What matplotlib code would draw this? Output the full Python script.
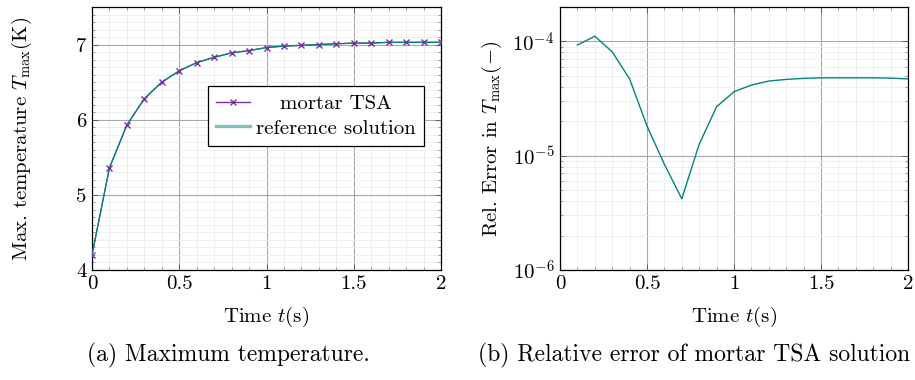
import matplotlib
matplotlib.use("Agg")
import matplotlib.pyplot as plt
from matplotlib.ticker import MultipleLocator, LogLocator, NullFormatter
from matplotlib.lines import Line2D
import numpy as np

plt.rcParams['font.family'] = 'serif'
plt.rcParams['font.serif'] = ['cmr10']
plt.rcParams['mathtext.fontset'] = 'cm'
plt.rcParams['axes.formatter.use_mathtext'] = True
plt.rcParams['axes.unicode_minus'] = True

# data
time = [0.0, 0.1, 0.2, 0.3, 0.4, 0.5, 0.6, 0.7, 0.8, 0.9, 1.0,
        1.1, 1.2, 1.3, 1.4, 1.5, 1.6, 1.7, 1.8, 1.9, 2.0]
t_max_mortar = [4.20, 5.36, 5.93, 6.28, 6.50, 6.65, 6.76, 6.83, 6.89, 6.92, 6.96,
                6.98, 6.99, 7.00, 7.01, 7.02, 7.02, 7.03, 7.03, 7.03, 7.03]
t_max_ref = [4.20, 5.36, 5.93, 6.28, 6.50, 6.65, 6.76, 6.83, 6.89, 6.92, 6.96,
             6.98, 6.99, 7.00, 7.01, 7.02, 7.02, 7.03, 7.03, 7.03, 7.03]
time_err = [0.1, 0.2, 0.3, 0.4, 0.5, 0.6, 0.7, 0.8, 0.9, 1.0,
            1.1, 1.2, 1.3, 1.4, 1.5, 1.6, 1.7, 1.8, 1.9, 2.0]
rel_err = [9.3e-5, 1.11e-4, 8.1e-5, 4.7e-5, 1.82e-5, 8.4e-6, 4.2e-6, 1.26e-5, 2.68e-5, 3.63e-5,
           4.15e-5, 4.5e-5, 4.65e-5, 4.75e-5, 4.8e-5, 4.8e-5, 4.8e-5, 4.8e-5, 4.77e-5, 4.7e-5]
legend_labels = ['mortar TSA', 'reference solution']

PURPLE = '#7b2e9e'
TEAL = '#00857a'
FS = 15
CAP = 17

fig = plt.figure(figsize=(9.15, 3.8), dpi=100)
W, H = 915, 380
ax1 = fig.add_axes([92/W, 1 - 270/H, 349/W, 263/H])
ax2 = fig.add_axes([560/W, 1 - 270/H, 348/W, 263/H])

def style(ax):
    ax.grid(True, which='major', color='#a8a8a8', lw=0.8)
    ax.grid(True, which='minor', color='#ececec', lw=0.6)
    ax.set_axisbelow(True)
    ax.tick_params(which='both', direction='in', top=True, right=True, labelsize=FS, pad=4)
    ax.tick_params(which='major', length=4, width=0.6, color='#555555')
    ax.tick_params(which='minor', length=2.5, width=0.5, color='#777777')
    for s in ax.spines.values():
        s.set_linewidth(0.9)
    ax.set_xlim(0, 2)
    ax.xaxis.set_major_locator(MultipleLocator(0.5))
    ax.xaxis.set_minor_locator(MultipleLocator(0.1))
    ax.set_xticks([0, 0.5, 1, 1.5, 2], ['0', '0.5', '1', '1.5', '2'])
    ax.set_xlabel(r'Time $t$(s)', fontsize=FS, labelpad=8)

style(ax1)
ax1.plot(time, t_max_mortar, color=PURPLE, lw=0.8, zorder=3)
ax1.plot(time, t_max_ref, color=TEAL, lw=1.0, zorder=4)
ax1.plot(time, t_max_mortar, ls='none', color=PURPLE, marker='x', ms=5, mew=1.0, zorder=5)
ax1.set_ylim(4, 7.5)
ax1.yaxis.set_major_locator(MultipleLocator(1))
ax1.yaxis.set_minor_locator(MultipleLocator(0.1))
ax1.set_yticks([4, 5, 6, 7], ['4', '5', '6', '7'])
ax1.set_ylabel(r'Max. temperature $T_{\max}$(K)', fontsize=FS, labelpad=30)
handles = [Line2D([], [], color=PURPLE, lw=1.0, marker='x', ms=5, mew=1.0),
           Line2D([], [], color=TEAL, lw=2.4, alpha=0.5)]
leg = ax1.legend(handles, legend_labels, loc='upper left',
                 bbox_to_anchor=(0.332, 0.70), fontsize=FS, fancybox=False,
                 edgecolor='black', framealpha=1, handlelength=1.6,
                 borderpad=0.4, labelspacing=0.3, handletextpad=0.3, borderaxespad=0)
leg.get_frame().set_linewidth(0.9)

# center the first legend label within the text column
fig.canvas.draw()
r = fig.canvas.get_renderer()
texts = leg.get_texts()
w0 = texts[0].get_window_extent(r).width
w1 = texts[1].get_window_extent(r).width
try:
    col = leg._legend_handle_box.get_children()[0]
    row0 = col.get_children()[0]
    row0.sep = row0.sep + (w1 - w0) / 2 * 72 / fig.dpi
except Exception:
    pass

style(ax2)
ax2.plot(time_err, rel_err, color=TEAL, lw=1.0, zorder=3)
ax2.set_yscale('log')
ax2.set_ylim(1e-6, 2e-4)
ax2.yaxis.set_major_locator(LogLocator(base=10, numticks=10))
ax2.yaxis.set_minor_locator(LogLocator(base=10, subs=np.arange(2, 10), numticks=20))
ax2.yaxis.set_minor_formatter(NullFormatter())
ax2.set_yticks([1e-6, 1e-5, 1e-4], [r'$10^{-6}$', r'$10^{-5}$', r'$10^{-4}$'])
ax2.set_ylabel(r'Rel. Error in $T_{\max}(-)$', fontsize=FS, labelpad=6)

fig.text(228/W, 1 - 355/H, '(a) Maximum temperature.', ha='center', va='center', fontsize=CAP)
fig.text(694/W, 1 - 355/H, '(b) Relative error of mortar TSA solution', ha='center', va='center', fontsize=CAP)

fig.savefig('out.png', dpi=100)
